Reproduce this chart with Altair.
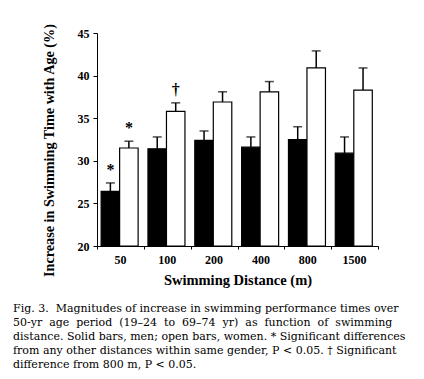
import altair as alt
import pandas as pd

distances = ["50", "100", "200", "400", "800", "1500"]
men = [26.4, 31.4, 32.4, 31.6, 32.5, 30.9]
men_upper = [27.4, 32.8, 33.5, 32.8, 34.0, 32.8]
women = [31.5, 35.8, 36.9, 38.1, 40.9, 38.3]
women_upper = [32.3, 36.8, 38.1, 39.3, 42.9, 40.9]
men_marks = ["*", "", "", "", "", ""]
women_marks = ["*", "\u2020", "", "", "", ""]
genders = ["Men", "Women"]
y_ticks = [20, 22.5, 25, 27.5, 30, 32.5, 35, 37.5, 40, 42.5, 45]
boundary_ticks = [0, 1, 2, 3, 4, 5, 6]

W = "\u00a0 "  # wider word gap for the justified second line
caption = [
    "Fig. 3.\u00a0 Magnitudes of increase in swimming performance times over",
    W.join(["50-yr", "age", "period", "(19\u201324", "to", "69\u201374", "yr)", "as", "function", "of", "swimming"]),
    "distance. Solid bars, men; open bars, women. * Significant differences",
    "from any other distances within same gender, P < 0.05. \u2020 Significant",
    "difference from 800 m, P < 0.05.",
]

rows = []
for i, d in enumerate(distances):
    rows.append({"distance": d, "gender": "Men", "value": men[i], "upper": men_upper[i], "mark": men_marks[i]})
    rows.append({"distance": d, "gender": "Women", "value": women[i], "upper": women_upper[i], "mark": women_marks[i]})
df = pd.DataFrame(rows)
tick_df = pd.DataFrame({"pos": boundary_ticks})

SERIF = "Liberation Serif"
CAPTION_FONT = "DejaVu Serif"

x_enc = alt.X(
    "distance:N",
    sort=distances,
    scale=alt.Scale(domain=distances, paddingInner=0, paddingOuter=0),
    axis=alt.Axis(
        orient="bottom", ticks=False, domain=False, labelAngle=0, labelPadding=8,
        title="Swimming Distance (m)", titleY=38, titleBaseline="alphabetic",
        titleFontSize=14.5,
    ),
)
xo_enc = alt.XOffset(
    "gender:N",
    scale=alt.Scale(domain=genders, paddingInner=0, paddingOuter=0.266, align=0.42),
)
y_enc = alt.Y(
    "value:Q",
    scale=alt.Scale(domain=[20, 45], nice=False, zero=False),
    axis=alt.Axis(
        values=y_ticks, tickSize=4, labelPadding=4,
        labelExpr="datum.value % 5 == 0 ? datum.label : ''",
        title="Increase in Swimming Time with Age (%)",
        titleX=-44, titleY=117, titleAngle=-90, titleAlign="center", titleBaseline="alphabetic",
        titleFontSize=14.2, grid=False,
    ),
)

base = alt.Chart(df)

bars = base.mark_bar(stroke="black", strokeWidth=1.2).encode(
    x=x_enc,
    xOffset=xo_enc,
    y=y_enc,
    y2=alt.datum(20),
    fill=alt.Fill("gender:N", scale=alt.Scale(domain=genders, range=["black", "white"]), legend=None),
)

err_rule = base.mark_rule(color="black", strokeWidth=1.5).encode(
    x=alt.X("distance:N", sort=distances),
    xOffset="gender:N",
    y="value:Q",
    y2="upper:Q",
)

err_cap = base.mark_tick(color="black", thickness=1.5, size=9, orient="horizontal").encode(
    x=alt.X("distance:N", sort=distances),
    xOffset="gender:N",
    y="upper:Q",
)

marks = base.mark_text(
    font=SERIF, fontWeight="bold", fontSize=16, baseline="middle", dy=-13, fill="black"
).encode(
    x=alt.X("distance:N", sort=distances),
    xOffset="gender:N",
    y="upper:Q",
    text="mark:N",
)

main = alt.layer(bars, err_rule, err_cap, marks)

ticks_layer = alt.Chart(tick_df).mark_point(opacity=0).encode(
    x=alt.X(
        "pos:Q",
        scale=alt.Scale(domain=[0, 6], nice=False, zero=False),
        axis=alt.Axis(orient="bottom", values=boundary_ticks, labels=False, title=None,
                      tickSize=3, domain=True, grid=False),
    )
)

chart = alt.layer(main, ticks_layer).resolve_scale(x="independent").properties(
    width=281,
    height=213,
    padding={"left": 89, "top": 25, "right": 38, "bottom": 125},
    autosize=alt.AutoSizeParams(type="none"),
    title=alt.TitleParams(
        text=caption, orient="bottom", anchor="start", frame="group", dx=-84,
        font=CAPTION_FONT, fontSize=11, fontWeight="normal", lineHeight=14.2,
        color="black", offset=16, baseline="top",
    ),
).configure_view(stroke=None).configure_axis(
    labelFont=SERIF, labelFontWeight="bold", labelFontSize=12, labelColor="black",
    titleFont=SERIF, titleFontWeight="bold", titleFontSize=13.5, titleColor="black",
    domainColor="black", tickColor="black", domainWidth=1, tickWidth=1,
)

chart.save("out.html", embed_options={"renderer": "svg", "actions": False})
